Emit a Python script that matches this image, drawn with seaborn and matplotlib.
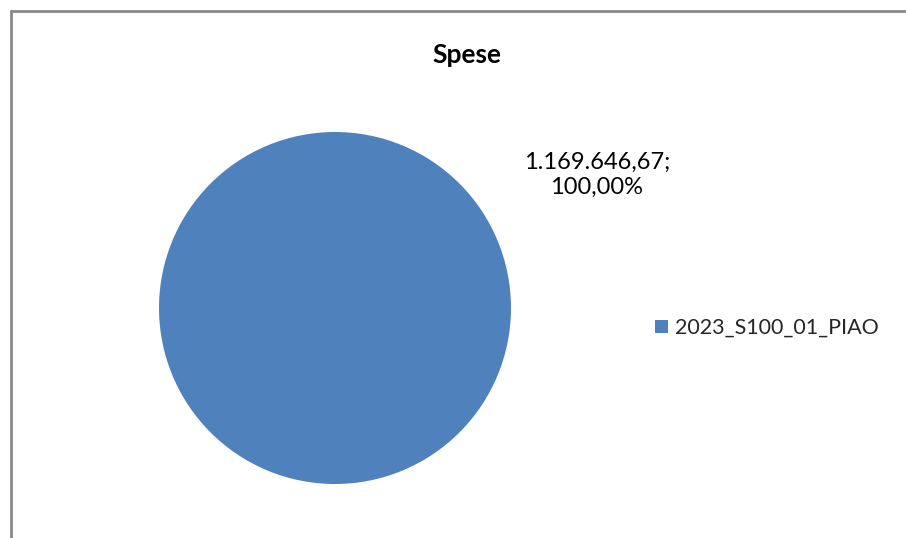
import numpy as np
import pandas as pd
import matplotlib
matplotlib.use("Agg")
import matplotlib.pyplot as plt
import seaborn as sns
from matplotlib.lines import Line2D

# data
categories = ["2023_S100_01_PIAO"]
values = [1169646.67]
colors = ["#4F81BD"]

df = pd.DataFrame({"voce": categories, "spese": values})

sns.set_theme(style="white")
plt.rcParams['font.family'] = ['Lato', 'DejaVu Sans']

W, H = 906, 538
fig = plt.figure(figsize=(W / 100, H / 100), dpi=100)
fig.patch.set_facecolor("white")

# pie axes placed in pixels (center 335,308 radius 176)
cx, cy, r = 335, 308, 176
ax = fig.add_axes([(cx - r) / W, (H - cy - r) / H, 2 * r / W, 2 * r / H])
wedges, _ = ax.pie(df["spese"], colors=colors, startangle=90, radius=1,
                   wedgeprops=dict(linewidth=0))
ax.set_xlim(-1, 1)
ax.set_ylim(-1, 1)
ax.set_aspect("auto")
ax.axis("off")

# italian number format
def fmt_it(v):
    s = f"{v:,.2f}"
    return s.replace(",", "X").replace(".", ",").replace("X", ".")

tot = df["spese"].sum()
for v in df["spese"]:
    pct = f"{v / tot * 100:.2f}".replace(".", ",") + "%"
    fig.text(597 / W, 1 - 175 / H, fmt_it(v) + ";\n" + pct, ha="center", va="center",
             fontsize=17, linespacing=1.2, color="black")

fig.text(467 / W, 1 - 55 / H, "Spese", ha="center", va="center",
         fontsize=19, fontweight="bold", color="black")

leg = fig.legend(wedges, df["voce"], loc="center left",
                 bbox_to_anchor=(655 / W, 1 - 328 / H), frameon=False,
                 fontsize=15.5, handlelength=0.6, handleheight=0.6,
                 handletextpad=0.35, borderpad=0, borderaxespad=0)

# chart area border (only left and top visible)
fig.add_artist(Line2D([11 / W, 11 / W], [0, 1 - 11 / H], transform=fig.transFigure,
                      color="#898989", linewidth=2))
fig.add_artist(Line2D([11 / W, 905 / W], [1 - 11 / H, 1 - 11 / H], transform=fig.transFigure,
                      color="#898989", linewidth=2))

fig.savefig("out.png", dpi=100)
